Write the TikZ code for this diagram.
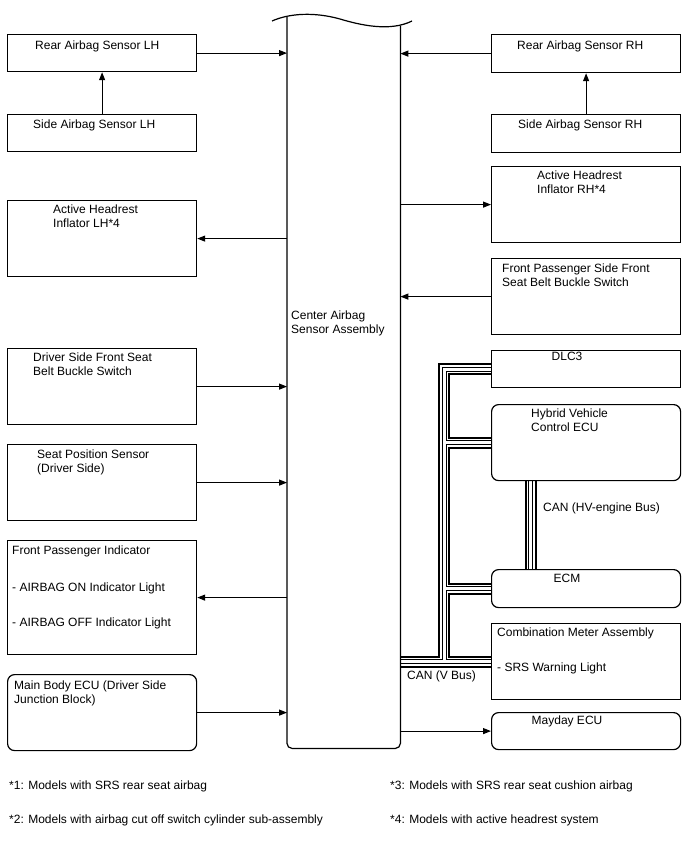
\documentclass[tikz,border=0pt]{standalone}
\usepackage{fontspec}
\setmainfont{Liberation Sans}
\usetikzlibrary{arrows.meta,backgrounds}
\newcommand\canpaths[1]{%
 \draw[#1] (dlc.west) -| (busx |- cma.west) -- (cas.east |- cma.west);
 \draw[#1] (busx |- hv.west) -- (hv.west);
 \draw[#1] (busx |- ecm.west) -- (ecm.west);
 \draw[#1] (busx |- cma.west) -- (cma.west);
 \draw[#1] (hv.south -| hvx) -- (ecm.north -| hvx);
}
\begin{document}
\begin{tikzpicture}[x=1pt,y=-1pt,
  box/.style={draw, line width=1.2pt, minimum width=189pt, anchor=north west, inner sep=0pt},
  rbox/.style={box, rounded corners=7pt},
  txt/.style={anchor=base west, align=left, inner sep=0pt, font=\fontsize{12}{14}\selectfont},
  ctxt/.style={anchor=base, inner sep=0pt, font=\fontsize{12}{14}\selectfont},
  arr/.style={line width=1.2pt, -{Triangle[length=8pt,width=6pt]}},
  ln/.style={line width=1.2pt}]
\useasboundingbox (0,0) rectangle (688,852);
% center box
\node[anchor=north west, minimum width=113pt, minimum height=731pt, inner sep=0pt] (cas) at (287,17) {};
\draw[ln, rounded corners=5pt] (cas.north west) -- (cas.south west) -- (cas.south east) -- ([yshift=-8.6pt]cas.north east);
\draw[ln] (272,21) .. controls (290,13) and (315,12) .. (340,19) .. controls (360,25) and (390,32) .. (412,21);
\node[txt] (cast) at (291,333.3) {Center Airbag\\Sensor Assembly};
% left boxes
\node[box, minimum height=37pt] (rl) at (7,34) {};
\node[box, minimum height=37pt] (sl) at (7,114) {};
\node[box, minimum height=76pt] (ahl) at (7,200) {};
\node[box, minimum height=76pt] (dsb) at (7,348) {};
\node[box, minimum height=76pt] (sps) at (7,444) {};
\node[box, minimum height=114pt] (fpi) at (7,540) {};
\node[rbox, minimum height=76pt] (mb) at (7,674) {};
% right boxes
\node[box, minimum height=38pt] (rr) at (491,34) {};
\node[box, minimum height=38pt] (sr) at (491,114) {};
\node[box, minimum height=76pt] (ahr) at (491,166) {};
\node[box, minimum height=76pt] (fpb) at (491,258) {};
\node[box, minimum height=37pt] (dlc) at (491,350) {};
\node[rbox, minimum height=76pt] (hv) at (491,404) {};
\node[rbox, minimum height=38pt] (ecm) at (491,569) {};
\node[box, minimum height=76pt] (cma) at (491,623) {};
\node[rbox, minimum height=37pt] (may) at (491,712) {};
% texts
\node[txt] (trl) at (35,49.3) {Rear Airbag Sensor LH};
\node[txt] (tsl) at (33,128.3) {Side Airbag Sensor LH};
\node[txt] (tahl) at (53,227.3) {Active Headrest\\Inflator LH*4};
\node[txt] (tdsb) at (33,375.3) {Driver Side Front Seat\\Belt Buckle Switch};
\node[txt] (tsps) at (37,472.3) {Seat Position Sensor\\(Driver Side)};
\node[txt] (tfpi) at (12,554.3) {Front Passenger Indicator};
\node[txt] (tfpi2) at (12,591.3) {- AIRBAG ON Indicator Light};
\node[txt] (tfpi3) at (12,626.3) {- AIRBAG OFF Indicator Light};
\node[txt] (tmb) at (14,703.3) {Main Body ECU (Driver Side\\Junction Block)};
\node[txt] (trr) at (517,49.3) {Rear Airbag Sensor RH};
\node[txt] (tsr) at (518,128.3) {Side Airbag Sensor RH};
\node[txt] (tahr) at (537,193.3) {Active Headrest\\Inflator RH*4};
\node[txt] (tfpb) at (502,286.3) {Front Passenger Side Front\\Seat Belt Buckle Switch};
\node[ctxt] (tdlc) at (567,360.3) {DLC3};
\node[txt] (thv) at (531,431.3) {Hybrid Vehicle\\Control ECU};
\node[ctxt] (tecm) at (567,582.3) {ECM};
\node[txt] (tcma) at (497,636.3) {Combination Meter Assembly};
\node[txt] (tcma2) at (497,671.3) {- SRS Warning Light};
\node[ctxt] (tmay) at (567,724.3) {Mayday ECU};
\node[txt] (tcanhv) at (543,511.3) {CAN (HV-engine Bus)};
\node[txt] (tcanv) at (407,679.3) {CAN (V Bus)};
% footnotes
\node[txt] (f1) at (9,789.3) {*1: Models with SRS rear seat airbag};
\node[txt] (f2) at (9,823.3) {*2: Models with airbag cut off switch cylinder sub-assembly};
\node[txt] (f3) at (390,789.3) {*3: Models with SRS rear seat cushion airbag};
\node[txt] (f4) at (390,823.3) {*4: Models with active headrest system};
% arrows
\draw[arr] (rl.east) -- (rl.east -| cas.west);
\draw[arr] (sl.north) -- (rl.south);
\draw[arr] (cas.west |- ahl.east) -- (ahl.east);
\draw[arr] (dsb.east) -- (dsb.east -| cas.west);
\draw[arr] (sps.east) -- (sps.east -| cas.west);
\draw[arr] (cas.west |- fpi.east) -- (fpi.east);
\draw[arr] (mb.east) -- (mb.east -| cas.west);
\draw[arr] (rr.west) -- (rr.west -| cas.east);
\draw[arr] (sr.north) -- (rr.south);
\draw[arr] (cas.east |- ahr.west) -- (ahr.west);
\draw[arr] (fpb.west) -- (fpb.west -| cas.east);
\draw[arr] (cas.east |- may.west) -- (may.west);
% CAN bus
\coordinate (busx) at (444,0);
\coordinate (hvx) at (530.5,0);
\begin{scope}[on background layer]
\canpaths{line width=12pt, black}
\canpaths{line width=8pt, white}
\canpaths{line width=5pt, black}
\canpaths{line width=3pt, white}
\end{scope}
\end{tikzpicture}
\end{document}
